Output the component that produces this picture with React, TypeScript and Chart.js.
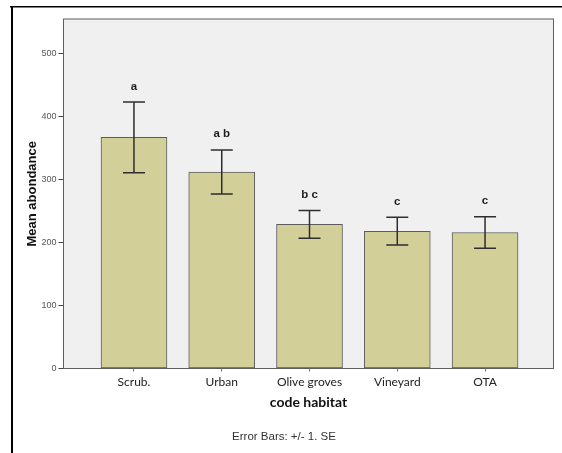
import { useEffect, useRef } from "react";
import { Chart, registerables } from "chart.js";

Chart.register(...registerables);

const categories = ["Scrub.", "Urban", "Olive groves", "Vineyard", "OTA"];
const means = [367, 312, 229, 218, 216];
const standardErrors = [56, 35, 22, 22, 25];
const groupLetters = ["a", "a b", "b c", "c", "c"];
const yTickValues = [0, 100, 200, 300, 400, 500];
const xAxisTitle = "code habitat";
const yAxisTitle = "Mean abondance";
const footerText = "Error Bars: +/- 1. SE";

const decorPlugin = {
  id: "decor",
  beforeDraw(chart: any) {
    const { ctx, chartArea: a, width, height } = chart;
    ctx.save();
    ctx.fillStyle = "#ffffff";
    ctx.fillRect(0, 0, width, height);
    ctx.fillStyle = "#f0f0f0";
    ctx.fillRect(a.left, a.top, a.right - a.left, a.bottom - a.top);
    ctx.fillStyle = "#000000";
    ctx.fillRect(10, 6, width - 10, 1.5);
    ctx.fillRect(11, 6, 2, height - 6);
    ctx.restore();
  },
  afterDatasetsDraw(chart: any) {
    const { ctx } = chart;
    const xs = chart.scales.x;
    const ys = chart.scales.y;
    ctx.save();
    ctx.strokeStyle = "#2e2e2e";
    ctx.lineWidth = 1.5;
    means.forEach((m, i) => {
      const x = xs.getPixelForValue(i);
      const yt = ys.getPixelForValue(m + standardErrors[i]);
      const yb = ys.getPixelForValue(m - standardErrors[i]);
      ctx.beginPath();
      ctx.moveTo(x, yt);
      ctx.lineTo(x, yb);
      ctx.moveTo(x - 11, yt);
      ctx.lineTo(x + 11, yt);
      ctx.moveTo(x - 11, yb);
      ctx.lineTo(x + 11, yb);
      ctx.stroke();
      ctx.fillStyle = "#1e1e1e";
      ctx.font = "bold 11.5px 'Liberation Sans', Arial, sans-serif";
      ctx.textAlign = "center";
      ctx.textBaseline = "alphabetic";
      ctx.fillText(groupLetters[i], x, yt - 12.5);
    });
    ctx.restore();
  },
  afterDraw(chart: any) {
    const { ctx, chartArea: a } = chart;
    ctx.save();
    ctx.strokeStyle = "#5e5e5e";
    ctx.lineWidth = 1;
    ctx.strokeRect(a.left, a.top, a.right - a.left, a.bottom - a.top);
    ctx.fillStyle = "#333333";
    ctx.font = "11.5px 'Liberation Sans', Arial, sans-serif";
    ctx.textAlign = "center";
    ctx.textBaseline = "middle";
    ctx.fillText(footerText, 284, 437);
    ctx.restore();
  },
};

export default function App() {
  const ref = useRef<HTMLCanvasElement | null>(null);
  useEffect(() => {
    if (!ref.current) return;
    const chart = new Chart(ref.current, {
      type: "bar",
      data: {
        datasets: [
          {
            data: categories.map((_, i) => ({ x: i, y: means[i] })),
            backgroundColor: "#d3cf99",
            borderColor: "#5c5c5c",
            borderWidth: 1,
            borderSkipped: false,
            barThickness: 66,
          },
        ],
      },
      options: {
        responsive: false,
        animation: false,
        devicePixelRatio: 1,
        layout: { padding: { left: 0, top: 19, right: 8.5, bottom: 0 } },
        plugins: {
          legend: { display: false },
          tooltip: { enabled: false },
        },
        scales: {
          x: {
            type: "linear",
            offset: false,
            min: -0.803,
            max: 4.78,
            afterBuildTicks: (scale: any) => {
              scale.ticks = categories.map((_, i) => ({ value: i }));
            },
            afterFit: (scale: any) => {
              scale.height = 84.5;
            },
            ticks: {
              callback: (v: any) => categories[Number(v)] ?? "",
              font: { family: "Lato", size: 12 },
              color: "#222222",
              padding: 3.5,
              maxRotation: 0,
              autoSkip: false,
            },
            grid: { offset: false, drawOnChartArea: false, tickLength: 3, color: "#777777" },
            border: { display: true, color: "#5e5e5e" },
            title: {
              display: true,
              text: xAxisTitle,
              font: { family: "Lato", size: 14, weight: "bold" },
              color: "#111111",
              padding: { top: 0, bottom: 42.6 },
            },
          },
          y: {
            min: 0,
            max: 555,
            afterBuildTicks: (scale: any) => {
              scale.ticks = yTickValues.map((v) => ({ value: v }));
            },
            afterFit: (scale: any) => {
              scale.width = 63.5;
            },
            ticks: {
              font: { family: "Liberation Sans", size: 9 },
              color: "#555555",
              padding: 2,
            },
            grid: { drawOnChartArea: false, tickLength: 5, color: "#444444" },
            border: { display: true, color: "#5e5e5e" },
            title: {
              display: true,
              text: yAxisTitle,
              font: { family: "Liberation Sans", size: 13, weight: "bold" },
              color: "#111111",
              padding: { top: 24.2, bottom: 0 },
            },
          },
        },
      },
      plugins: [decorPlugin],
    } as any);
    return () => chart.destroy();
  }, []);
  return (
    <div style={{ position: "absolute", left: 0, top: 0, width: 562, height: 453 }}>
      <canvas ref={ref} width={562} height={453} />
    </div>
  );
}
